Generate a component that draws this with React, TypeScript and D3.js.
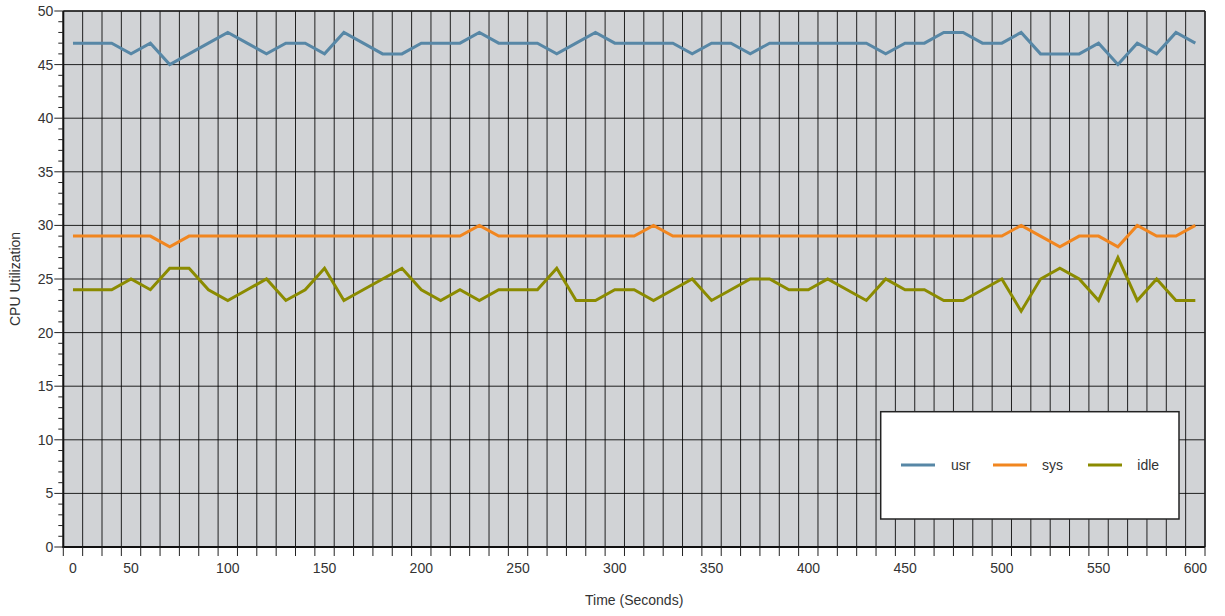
import React from 'react';
import * as d3 from 'd3';

const times = [20, 30, 40, 50, 60, 70, 80, 90, 100, 110, 120, 130, 140, 150, 160, 170, 180, 190, 200, 210, 220, 230, 240, 250, 260, 270, 280, 290, 300, 310, 320, 330, 340, 350, 360, 370, 380, 390, 400, 410, 420, 430, 440, 450, 460, 470, 480, 490, 500, 510, 520, 530, 540, 550, 560, 570, 580, 590, 600];

const usr = [47, 47, 47, 46, 47, 45, 46, 47, 48, 47, 46, 47, 47, 46, 48, 47, 46, 46, 47, 47, 47, 48, 47, 47, 47, 46, 47, 48, 47, 47, 47, 47, 46, 47, 47, 46, 47, 47, 47, 47, 47, 47, 46, 47, 47, 48, 48, 47, 47, 48, 46, 46, 46, 47, 45, 47, 46, 48, 47];

const sys = [29, 29, 29, 29, 29, 28, 29, 29, 29, 29, 29, 29, 29, 29, 29, 29, 29, 29, 29, 29, 29, 30, 29, 29, 29, 29, 29, 29, 29, 29, 30, 29, 29, 29, 29, 29, 29, 29, 29, 29, 29, 29, 29, 29, 29, 29, 29, 29, 29, 30, 29, 28, 29, 29, 28, 30, 29, 29, 30];

const idle = [24, 24, 24, 25, 24, 26, 26, 24, 23, 24, 25, 23, 24, 26, 23, 24, 25, 26, 24, 23, 24, 23, 24, 24, 24, 26, 23, 23, 24, 24, 23, 24, 25, 23, 24, 25, 25, 24, 24, 25, 24, 23, 25, 24, 24, 23, 23, 24, 25, 22, 25, 26, 25, 23, 27, 23, 25, 23, 23];

const seriesNames = ['usr', 'sys', 'idle'];
const seriesColors = ['#5787a6', '#f1861f', '#8b8b00'];
const seriesValues = [usr, sys, idle];

const xTickLabels = [0, 50, 100, 150, 200, 250, 300, 350, 400, 450, 500, 550, 600];
const yTickLabels = [0, 5, 10, 15, 20, 25, 30, 35, 40, 45, 50];

const W = 1225;
const H = 616;
const L = 63.3;
const R = 1205;
const T = 11;
const B = 547;

export default function App() {
  const x = d3.scaleLinear().domain([15, 605]).range([L, R]);
  const y = d3.scaleLinear().domain([0, 50]).range([B, T]);
  const xTicks = d3.range(15, 606, 10);
  const yMinor = d3.range(0, 51, 1);
  const line = d3
    .line<number>()
    .x((_, i) => x(times[i]))
    .y((d) => y(d));

  const font = "'Liberation Sans', Arial, sans-serif";
  const legendX = 880.7;
  const legendY = 411.7;
  const legendW = 298.3;
  const legendH = 107.3;
  const legendItems = [
    { lx: 901, tx: 951 },
    { lx: 993, tx: 1042 },
    { lx: 1088, tx: 1137.3 },
  ];

  return (
    <svg
      width={W}
      height={H}
      style={{ position: 'absolute', left: 0, top: 0, background: '#fff' }}
      fontFamily={font}
    >
      <rect x={L} y={T} width={R - L} height={B - T} fill="#d1d3d6" />
      {/* vertical grid */}
      {xTicks.map((t) => (
        <line key={'vg' + t} x1={x(t)} x2={x(t)} y1={T} y2={B} stroke="#000" strokeOpacity={0.85} strokeWidth={1} />
      ))}
      {/* horizontal grid */}
      {yTickLabels.map((v) => (
        <line key={'hg' + v} x1={L} x2={R} y1={y(v)} y2={y(v)} stroke="#000" strokeOpacity={0.85} strokeWidth={1} />
      ))}
      {/* series */}
      {seriesValues.map((vals, i) => (
        <path key={seriesNames[i]} d={line(vals) || ''} fill="none" stroke={seriesColors[i]} strokeWidth={3} strokeLinejoin="miter" />
      ))}
      {/* borders */}
      <line x1={L} x2={R} y1={T} y2={T} stroke="#222" strokeWidth={1.5} />
      <line x1={R} x2={R} y1={T} y2={B} stroke="#222" strokeWidth={1.5} />
      <line x1={L} x2={L} y1={T} y2={B + 0.5} stroke="#111" strokeWidth={2} />
      <line x1={L - 1} x2={R} y1={B} y2={B} stroke="#111" strokeWidth={2} />
      {/* y ticks */}
      {yMinor.map((v) => (
        <line key={'ym' + v} x1={v % 5 === 0 ? L - 9 : L - 5} x2={L} y1={y(v)} y2={y(v)} stroke="#222" strokeWidth={1} />
      ))}
      {yTickLabels.map((v) => (
        <text key={'yl' + v} x={L - 10} y={y(v)} dy="0.35em" textAnchor="end" fontSize={14} fill="#333">
          {v}
        </text>
      ))}
      {/* x ticks */}
      {xTicks.map((t) => (
        <line key={'xt' + t} x1={x(t)} x2={x(t)} y1={B} y2={B + 9} stroke="#222" strokeWidth={1} />
      ))}
      {xTickLabels.map((v) => (
        <text key={'xl' + v} x={x(v === 0 ? times[0] : v)} y={573} textAnchor="middle" fontSize={14} fill="#333">
          {v}
        </text>
      ))}
      {/* axis titles */}
      <text x={(L + R) / 2} y={605} textAnchor="middle" fontSize={14} fill="#333">
        Time (Seconds)
      </text>
      <text transform={`translate(20, ${(T + B) / 2}) rotate(-90)`} textAnchor="middle" fontSize={14} fill="#333">
        CPU Utilization
      </text>
      {/* legend */}
      <rect x={legendX} y={legendY} width={legendW} height={legendH} fill="#fff" stroke="#222" strokeWidth={1.5} />
      {seriesNames.map((name, i) => (
        <g key={'lg' + name}>
          <line x1={legendItems[i].lx} x2={legendItems[i].lx + 34} y1={465} y2={465} stroke={seriesColors[i]} strokeWidth={3} />
          <text x={legendItems[i].tx} y={465} dy="0.35em" fontSize={14} fill="#333">
            {name}
          </text>
        </g>
      ))}
    </svg>
  );
}
